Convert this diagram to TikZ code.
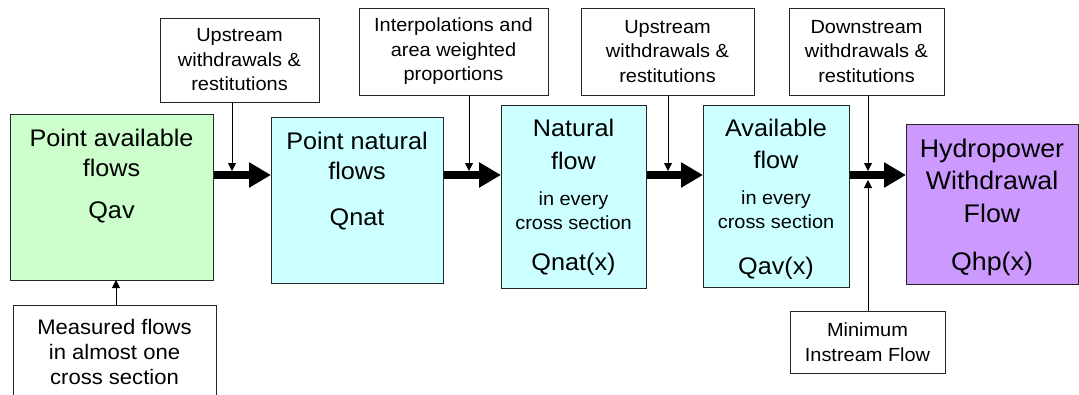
\documentclass[tikz,border=0pt]{standalone}
\usepackage{fontspec}
\setmainfont[FakeStretch=1.05]{Liberation Sans}
\usetikzlibrary{positioning,arrows.meta,calc}
\definecolor{avgreen}{HTML}{CCFFCC}
\definecolor{natcyan}{HTML}{CCFFFF}
\definecolor{hpviolet}{HTML}{CC99FF}
\newcommand{\bigfont}{\fontsize{24}{30}\selectfont}
\newcommand{\hpfont}{\fontsize{25.5}{32.5}\selectfont}
\newcommand{\smallfont}{\fontsize{19}{24.5}\selectfont}

\begin{document}
\begin{tikzpicture}[x=1pt,y=-1pt,
  flowbox/.style={draw=black!85,line width=1pt,inner sep=0pt,anchor=north west},
  notebox/.style={draw=black!85,line width=1pt,fill=white,font=\smallfont,align=center,inner sep=0pt},
  bigtxt/.style={font=\bigfont,align=center,inner sep=0pt},
  smalltxt/.style={font=\smallfont,align=center,inner sep=0pt},
  mainflow/.style={line width=8pt,-{Triangle[width=24pt,length=22pt]}},
  feed/.style={line width=1pt,-{Triangle[width=8pt,length=8pt]}}]
\useasboundingbox (0,0) rectangle (1079,394);

% Flow boxes
\node[flowbox,fill=avgreen,minimum width=203pt,minimum height=166pt] (pav) at (10,114) {};
\node[bigtxt,anchor=north] (pavtitle) at (111.5,129) {Point available\\flows};
\node[bigtxt,anchor=base] (pavq) at (111.5,218) {Qav};

\node[flowbox,fill=natcyan,minimum width=172pt,minimum height=166pt] (pnat) at (271,117) {};
\node[bigtxt,anchor=north] (pnattitle) at (357,132) {Point natural\\flows};
\node[bigtxt,anchor=base] (pnatq) at (357,225) {Qnat};

\node[flowbox,fill=natcyan,minimum width=145pt,minimum height=183pt] (nat) at (501,105) {};
\node[bigtxt,anchor=north,font=\fontsize{24}{33}\selectfont] (nattitle) at (573.5,118.5) {Natural\\flow};
\node[smalltxt,anchor=north] (natsub) at (573.5,191.5) {in every\\cross section};
\node[bigtxt,anchor=base] (natq) at (573.5,270) {Qnat(x)};

\node[flowbox,fill=natcyan,minimum width=146pt,minimum height=182pt] (avail) at (703,105) {};
\node[bigtxt,anchor=north,font=\fontsize{24}{32}\selectfont] (availtitle) at (776,118.5) {Available\\flow};
\node[smalltxt,anchor=north] (availsub) at (776,190.5) {in every\\cross section};
\node[bigtxt,anchor=base] (availq) at (776,274) {Qav(x)};

\node[flowbox,fill=hpviolet,minimum width=172pt,minimum height=160pt] (hp) at (906,124) {};
\node[bigtxt,anchor=north,font=\hpfont] (hptitle) at (992,138.5) {Hydropower\\Withdrawal\\Flow};
\node[bigtxt,anchor=base,font=\hpfont] (hpq) at (992,270) {Qhp(x)};

% Side inputs
\node[notebox,minimum width=159pt,minimum height=84pt] (up1) at (239.5,60) {Upstream\\withdrawals \&\\restitutions};
\node[notebox,minimum width=189pt,minimum height=87pt] (interp) at (453.5,51.5) {Interpolations and\\area weighted\\proportions};
\node[notebox,minimum width=173pt,minimum height=87pt] (up2) at (667.5,51.5) {Upstream\\withdrawals \&\\restitutions};
\node[notebox,minimum width=155pt,minimum height=87pt] (down) at (866.5,51.5) {Downstream\\withdrawals \&\\restitutions};
\node[notebox,font=\fontsize{21}{25}\selectfont,minimum width=203pt,minimum height=93pt] (meas) at (114.5,351.5) {Measured flows\\in almost one\\cross section};
\node[notebox,minimum width=155pt,minimum height=62pt] (minflow) at (867.5,342) {Minimum\\Instream Flow};

% Main flow arrows
\coordinate (axis) at (0,175);
\foreach \a/\b in {pav/pnat,pnat/nat,nat/avail,avail/hp}
  \draw[mainflow] (\a.east |- axis) -- (\b.west |- axis);

% Feeding arrows
\coordinate (j1) at (232,171);
\coordinate (j2) at (469,171);
\coordinate (j3) at (668,171);
\coordinate (j4) at (868,171);
\coordinate (j5) at (868,180);
\coordinate (mx) at (116,280);
\foreach \s/\j in {up1/j1,interp/j2,up2/j3,down/j4}
  \draw[feed] (\s.south -| \j) -- (\j);
\draw[feed] (minflow.north -| j5) -- (j5);
\draw[feed] (meas.north -| mx) -- (mx);
\end{tikzpicture}
\end{document}
